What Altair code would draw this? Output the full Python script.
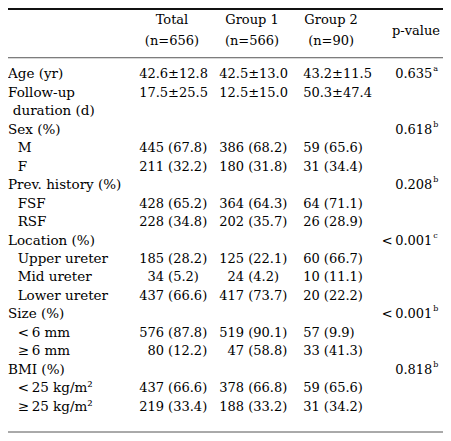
import altair as alt
import pandas as pd

# ---------------- data ----------------
row_labels = ["Age (yr)", "Follow-up", "duration (d)", "Sex (%)", "M", "F",
              "Prev. history (%)", "FSF", "RSF", "Location (%)", "Upper ureter",
              "Mid ureter", "Lower ureter", "Size (%)", "<\u20096 mm", "\u2265\u20096 mm",
              "BMI (%)", "<\u200925 kg/m\u00b2", "\u2265\u200925 kg/m\u00b2"]
row_indent = [0, 0, 1, 0, 2, 2, 0, 2, 2, 0, 2, 2, 2, 0, 2, 2, 0, 2, 2]

total = ["42.6±12.8", "17.5±25.5", "", "", "445 (67.8)", "211 (32.2)", "",
         "428 (65.2)", "228 (34.8)", "", "185 (28.2)", "34 (5.2)", "437 (66.6)", "",
         "576 (87.8)", "80 (12.2)", "", "437 (66.6)", "219 (33.4)"]
group1 = ["42.5±13.0", "12.5±15.0", "", "", "386 (68.2)", "180 (31.8)", "",
          "364 (64.3)", "202 (35.7)", "", "125 (22.1)", "24 (4.2)", "417 (73.7)", "",
          "519 (90.1)", "47 (58.8)", "", "378 (66.8)", "188 (33.2)"]
group2 = ["43.2±11.5", "50.3±47.4", "", "", "59 (65.6)", "31 (34.4)", "",
          "64 (71.1)", "26 (28.9)", "", "60 (66.7)", "10 (11.1)", "20 (22.2)", "",
          "57 (9.9)", "33 (41.3)", "", "59 (65.6)", "31 (34.2)"]
p_values = ["0.635", "", "", "0.618", "", "", "0.208", "", "", "<\u20090.001", "", "", "",
            "<\u20090.001", "", "", "0.818", "", ""]
p_notes = ["a", "", "", "b", "", "", "b", "", "", "c", "", "", "", "b", "", "", "b", "", ""]

header_names = ["Total", "Group 1", "Group 2"]
header_n = ["(n=656)", "(n=566)", "(n=90)"]
p_header = "p-value"

# ---------------- layout (table geometry) ----------------
W, H = 435, 425
REF_W = 451
SCALE = W / REF_W
FONT = "DejaVu Serif"
FS = 13
FS_LABEL = 13.5
INK = "#000000"
DIGIT = 0.636 * FS / SCALE   # digit width in layout units
SPACE = 0.318 * FS / SCALE
LABEL_X = {0: 0, 1: 5, 2: 10}
COL_LEFT = [136, 219, 306]
COL_DIGITS = [3, 3, 2]
COL_COUNT_RIGHT = [COL_LEFT[i] + COL_DIGITS[i] * DIGIT for i in range(3)]
COL_PCT_LEFT = [c + SPACE for c in COL_COUNT_RIGHT]
HEADER_CENTER = [170, 253, 335]
P_RIGHT = 440
P_HEADER_X = 423
ROW_HEAD1, ROW_HEAD2, ROW_PHEAD = -2.95, -1.78, -2.36
RULE_TOP, RULE_MID, RULE_BOTTOM = -3.54, -0.90, 19.37

# ---------------- build tables ----------------
labels_df = pd.DataFrame({"x": [LABEL_X[i] for i in row_indent],
                          "y": list(range(len(row_labels))),
                          "t": row_labels})

mean_rows, count_rows, pct_rows = [], [], []
for ci, col in enumerate([total, group1, group2]):
    for r, v in enumerate(col):
        if not v:
            continue
        if "(" in v:
            c, p = v.split(" ", 1)
            count_rows.append({"x": COL_COUNT_RIGHT[ci], "y": r, "t": c})
            pct_rows.append({"x": COL_PCT_LEFT[ci], "y": r, "t": p})
        else:
            mean_rows.append({"x": COL_LEFT[ci], "y": r, "t": v})
mean_df = pd.DataFrame(mean_rows)
count_df = pd.DataFrame(count_rows)
pct_df = pd.DataFrame(pct_rows)

p_df = pd.DataFrame([{"x": P_RIGHT, "y": r, "t": v} for r, v in enumerate(p_values) if v])
note_df = pd.DataFrame([{"x": P_RIGHT + 1, "y": r, "t": v} for r, v in enumerate(p_notes) if v])

head_rows = []
for ci in range(3):
    head_rows.append({"x": HEADER_CENTER[ci], "y": ROW_HEAD1, "t": header_names[ci]})
    head_rows.append({"x": HEADER_CENTER[ci], "y": ROW_HEAD2, "t": header_n[ci]})
head_rows.append({"x": P_HEADER_X, "y": ROW_PHEAD, "t": p_header})
head_df = pd.DataFrame(head_rows)

thick_df = pd.DataFrame({"x": [0], "x2": [REF_W], "y": [RULE_TOP]})
thin_df = pd.DataFrame({"x": [0, 0], "x2": [REF_W, REF_W], "y": [RULE_MID, RULE_BOTTOM]})

xs = alt.Scale(domain=[0, REF_W], range=[0, W])
ys = alt.Scale(domain=[RULE_TOP, RULE_BOTTOM], range=[1, H - 1])
X = alt.X("x:Q", scale=xs, axis=None)
Y = alt.Y("y:Q", scale=ys, axis=None)


def text_layer(df, align, size=FS, dy=0):
    return alt.Chart(df).mark_text(align=align, baseline="middle", font=FONT,
                                   fontSize=size, color=INK, dy=dy).encode(
        x=X, y=Y, text="t:N")


thick = alt.Chart(thick_df).mark_rule(color="#111111", strokeWidth=2).encode(x=X, x2="x2:Q", y=Y)
thin = alt.Chart(thin_df).mark_rule(color="#555555", strokeWidth=1).encode(x=X, x2="x2:Q", y=Y)

chart = alt.layer(
    thick, thin,
    text_layer(head_df, "center"),
    text_layer(labels_df, "left", size=FS_LABEL),
    text_layer(mean_df, "left"),
    text_layer(count_df, "right"),
    text_layer(pct_df, "left"),
    text_layer(p_df, "right"),
    text_layer(note_df, "left", size=8, dy=-5),
).properties(
    width=W, height=H, autosize=alt.AutoSizeParams(type="none"), padding=0
).configure(background="white", view=alt.ViewConfig(stroke=None))

chart.save("out.html", embed_options={"renderer": "svg", "actions": False})
